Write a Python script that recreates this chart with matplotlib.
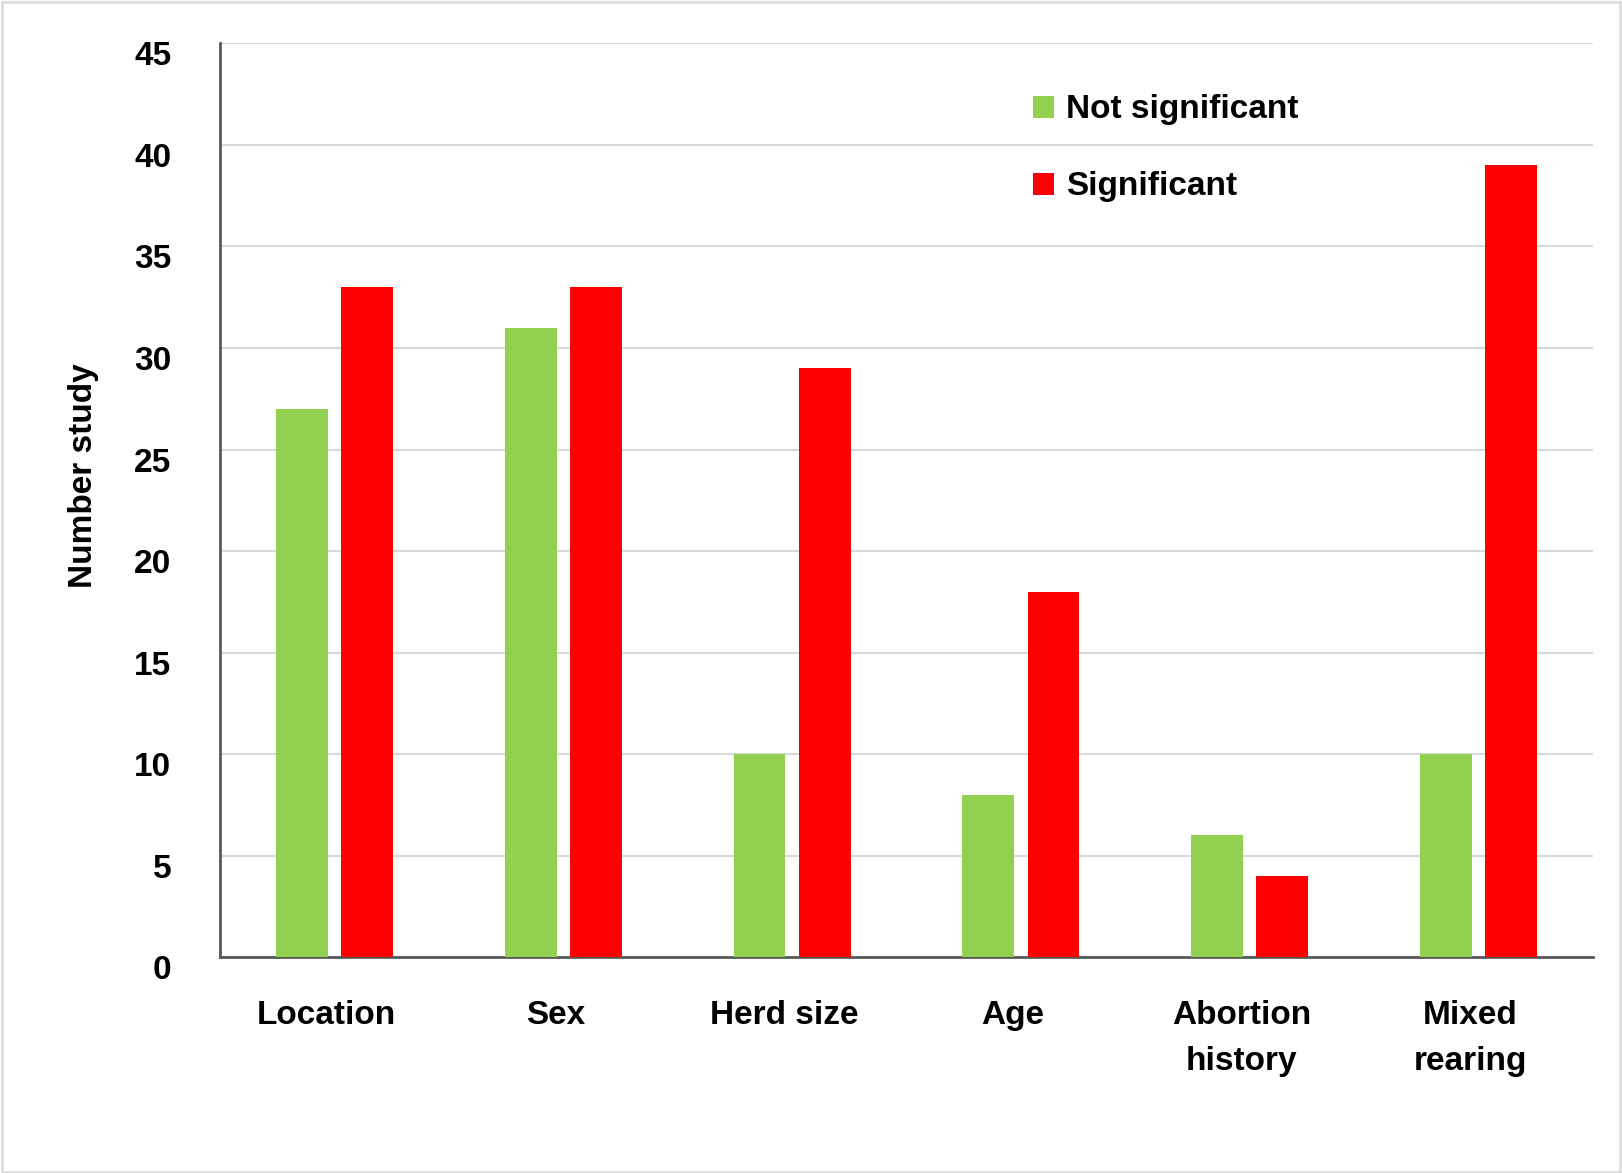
import numpy as np
import matplotlib
matplotlib.use("Agg")
import matplotlib.pyplot as plt
import matplotlib.transforms as mtransforms
from matplotlib.patches import Rectangle

# data
categories = ["Location", "Sex", "Herd size", "Age", "Abortion\nhistory", "Mixed\nrearing"]
not_significant = [27, 31, 10, 8, 6, 10]
significant = [33, 33, 29, 18, 4, 39]
yticks = [0, 5, 10, 15, 20, 25, 30, 35, 40, 45]

plt.rcParams['font.family'] = ['Liberation Sans', 'DejaVu Sans']
plt.rcParams['font.weight'] = 'bold'

green = '#92D050'
red = '#FF0000'

fig = plt.figure(figsize=(16.22, 11.73), dpi=100)
ax = fig.add_axes([0.1357, 0.184, 0.982 - 0.1357, 0.963 - 0.184])

x = np.arange(len(categories))
w = 0.226
off = 0.1425
ax.bar(x - off, not_significant, width=w, color=green, label='Not significant', zorder=3)
ax.bar(x + off, significant, width=w, color=red, label='Significant', zorder=3)

ax.set_xlim(-0.5, 5.5)
ax.set_ylim(0, 45)
ax.set_yticks(yticks)
ax.set_xticks(x)
ax.set_xticklabels(categories, fontsize=24, fontweight='bold', linespacing=1.62)
ax.tick_params(axis='y', length=0, pad=35, labelsize=24)
ax.tick_params(axis='x', length=0, pad=31)
for lbl in ax.get_yticklabels():
    lbl.set_fontweight('bold')
    lbl.set_transform(lbl.get_transform() +
                      mtransforms.ScaledTranslation(0, -0.1, fig.dpi_scale_trans))
for lbl in ax.get_xticklabels():
    lbl.set_transform(lbl.get_transform() +
                      mtransforms.ScaledTranslation(-0.08, 0, fig.dpi_scale_trans))

ax.yaxis.grid(True, color='#d9d9d9', linewidth=1.5, zorder=0)
ax.set_axisbelow(True)
for s in ['top', 'right']:
    ax.spines[s].set_visible(False)
for s in ['left', 'bottom']:
    ax.spines[s].set_color('#595959')
    ax.spines[s].set_linewidth(2)

ax.set_ylabel('Number study', fontsize=24, fontweight='bold')
ax.yaxis.set_label_coords(-0.088, 0.527)

ax.legend(loc='center left', bbox_to_anchor=(0.592, 0.885), frameon=False,
          handlelength=0.63, handleheight=0.63, handletextpad=0.38,
          labelspacing=1.38, borderpad=0, borderaxespad=0,
          prop={'weight': 'bold', 'size': 24})

# light frame round the whole picture
fig.patches.append(Rectangle((0.001, 0.001), 0.998, 0.997, transform=fig.transFigure,
                             fill=False, edgecolor='#dddddd', linewidth=2))

fig.savefig('out.png', dpi=100)
